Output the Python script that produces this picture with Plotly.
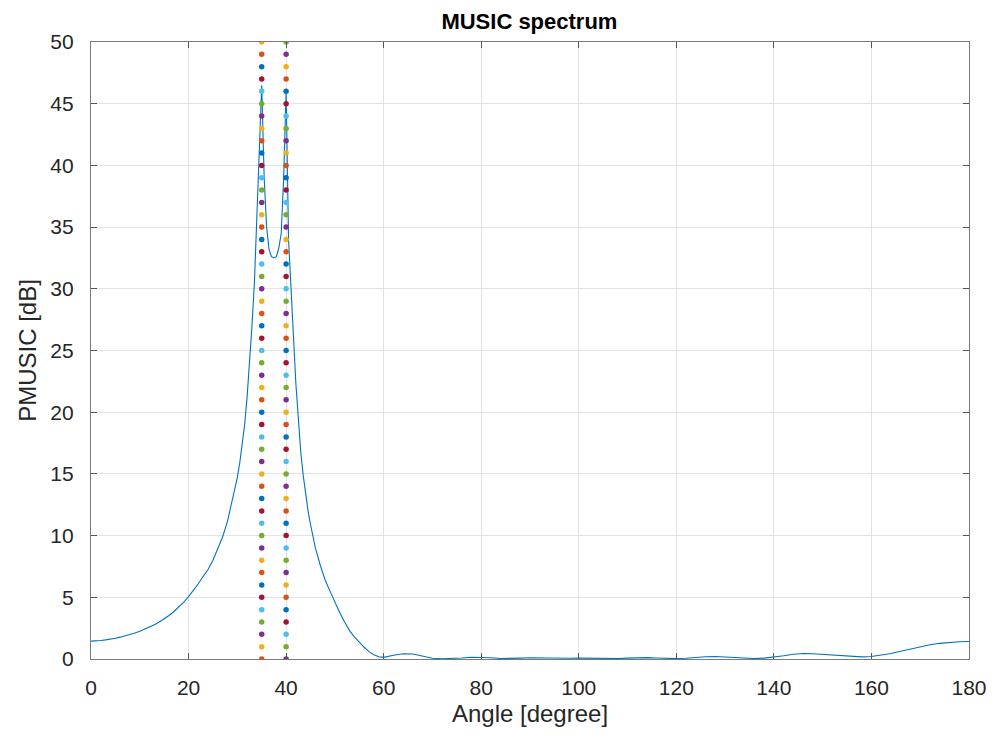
import plotly.graph_objects as go

# MUSIC spectrum (angle in degrees, level in dB)
angle_left = list(range(0, 30))
pmusic_left = [1.45, 1.46, 1.50, 1.55, 1.60, 1.68, 1.77, 1.87, 1.98, 2.10,
               2.24, 2.40, 2.58, 2.78, 3.00, 3.25, 3.53, 3.85, 4.20, 4.60,
               5.05, 5.55, 6.10, 6.70, 7.25, 8.00, 8.90, 9.90, 11.2, 12.9]

# the two peaks, read at half a degree
angle_peaks = [30, 30.5, 31, 31.5, 32, 32.5, 33, 33.5, 34, 34.5,
               35, 35.5, 36, 36.5, 37, 37.5, 38, 38.5, 39, 39.5,
               40, 40.5, 41, 41.5, 42, 42.5, 43, 43.5, 44, 44.5, 45]
pmusic_peaks = [14.7, 15.9, 17.3, 19.0, 21.2, 23.9, 27.0, 30.5, 35.5, 41.5,
                46.5, 39.0, 35.0, 33.2, 32.6, 32.5, 32.6, 33.3, 34.5, 39.0,
                46.0, 34.0, 29.5, 26.2, 22.3, 19.3, 16.8, 14.9, 13.3, 12.0, 10.9]

angle_right = list(range(46, 61))
pmusic_right = [9.00, 7.60, 6.40, 5.50, 4.60, 3.75, 3.00, 2.30, 1.80, 1.35,
                0.95, 0.60, 0.35, 0.18, 0.13]

angle_tail = list(range(62, 181, 2))
pmusic_tail = [0.30, 0.42, 0.40, 0.22, 0.06, 0.02, 0.03, 0.08, 0.14, 0.15,
               0.10, 0.04, 0.03, 0.07, 0.10, 0.08, 0.04, 0.03, 0.06, 0.07,
               0.05, 0.02, 0.02, 0.04, 0.07, 0.10, 0.11, 0.08, 0.04, 0.03,
               0.06, 0.13, 0.18, 0.20, 0.17, 0.10, 0.05, 0.04, 0.07, 0.14,
               0.26, 0.38, 0.44, 0.43, 0.38, 0.30, 0.22, 0.18, 0.17, 0.20,
               0.30, 0.45, 0.63, 0.82, 1.00, 1.15, 1.27, 1.35, 1.40, 1.42]

angle = angle_left + angle_peaks + angle_right + angle_tail
pmusic = pmusic_left + pmusic_peaks + pmusic_right + pmusic_tail

# true directions of arrival, marked with dotted columns
doa_angles = [35, 40]
doa_levels = list(range(0, 51))

# matlab default colour order
matlab_colors = ["#0072BD", "#D95319", "#EDB120", "#7E2F8E",
                 "#77AC30", "#4DBEEE", "#A2142F"]

fig = go.Figure()

fig.add_trace(go.Scatter(
    x=angle, y=pmusic, mode="lines",
    line=dict(color=matlab_colors[0], width=1.1),
    showlegend=False
))

# every dot was its own plot call, so the colour cycles point by point
k = 1
for a in doa_angles:
    cols = []
    for _ in doa_levels:
        cols.append(matlab_colors[k % 7])
        k += 1
    fig.add_trace(go.Scatter(
        x=[a] * len(doa_levels), y=doa_levels, mode="markers",
        marker=dict(color=cols, size=5.5),
        showlegend=False
    ))

axis_style = dict(
    showline=True, linecolor="#7a7a7a", linewidth=1.3, mirror="allticks",
    ticks="inside", ticklen=6, tickcolor="#555555",
    showgrid=True, gridcolor="#e3e3e3", gridwidth=1, zeroline=False,
    tickfont=dict(size=21, color="#262626"), automargin=False,
)

fig.update_xaxes(range=[0, 180], dtick=20, tick0=0, ticklabelstandoff=10,
                 title=dict(text="Angle [degree]", font=dict(size=24, color="#262626"), standoff=6),
                 **axis_style)
fig.update_yaxes(range=[0, 50], dtick=5, tick0=0, ticklabelstandoff=12,
                 title=dict(text="PMUSIC [dB]", font=dict(size=24, color="#262626"), standoff=6),
                 **axis_style)

# the page body has an 8px margin, so the figure is drawn 16px smaller
fig.update_layout(
    width=981, height=722,
    margin=dict(l=83, r=20, t=34, b=71),
    paper_bgcolor="white", plot_bgcolor="white",
    font=dict(family="Liberation Sans, Arial, sans-serif"),
    title=dict(text="<b>MUSIC spectrum</b>", x=0.5315, xanchor="center",
               y=0.981, yanchor="middle", font=dict(size=22, color="black")),
)

fig.write_html("out.html")
